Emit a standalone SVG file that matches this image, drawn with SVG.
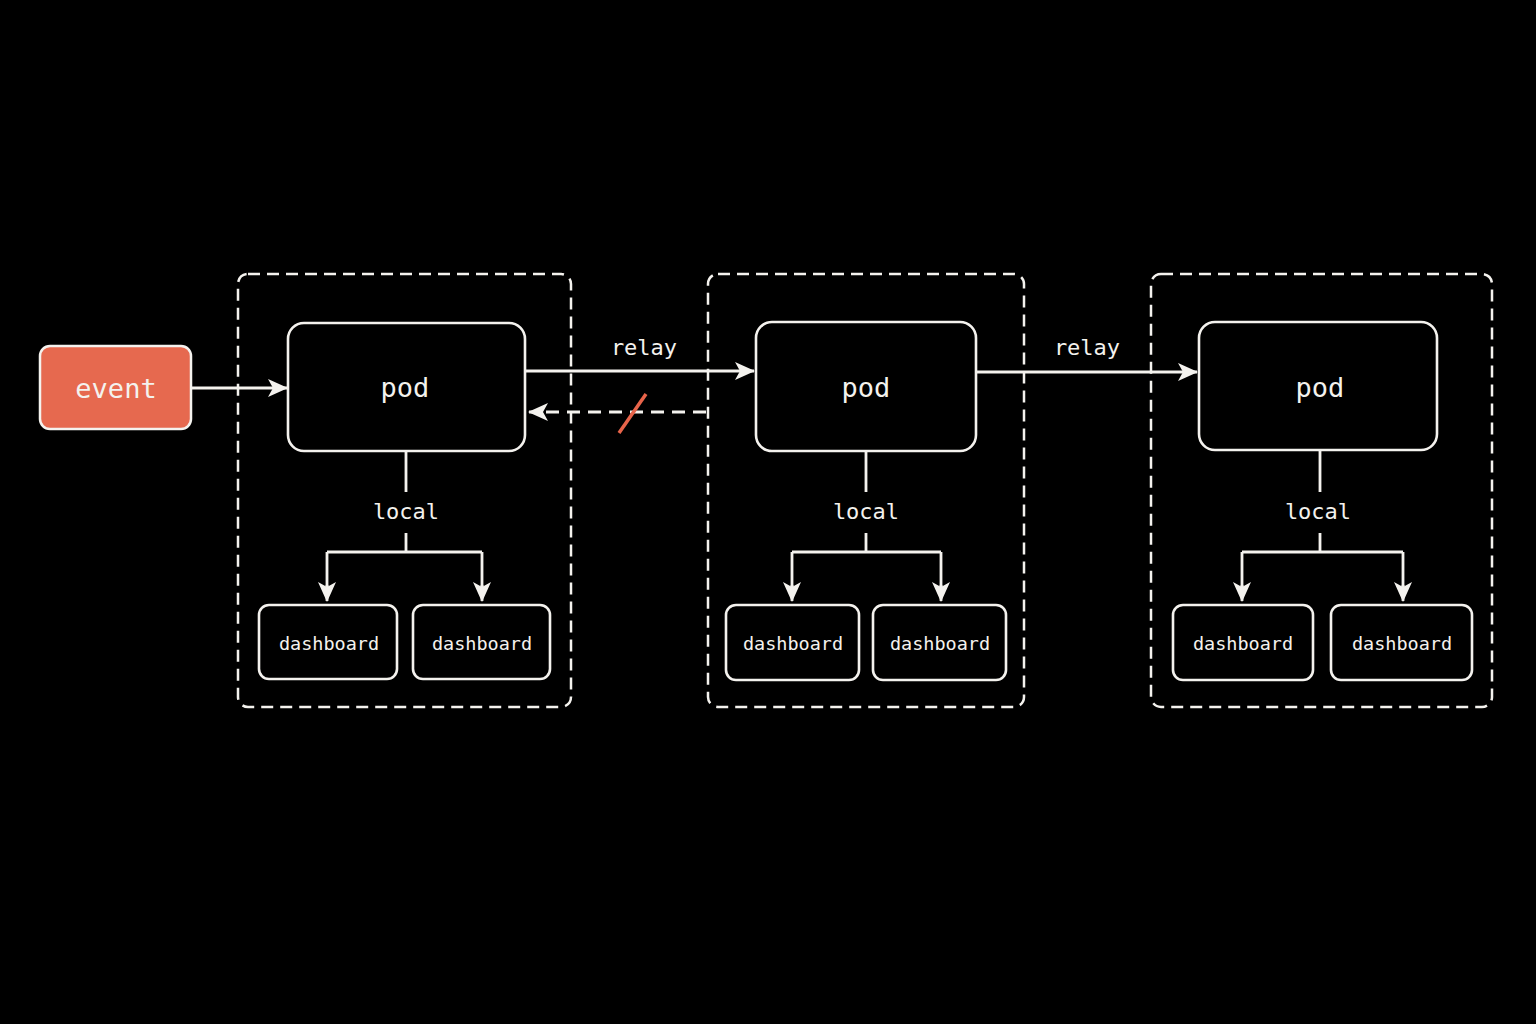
<svg xmlns="http://www.w3.org/2000/svg" width="1536" height="1024" viewBox="0 0 1536 1024">
<style>
.bg{fill:#000}
.grp{fill:none;stroke:#f4f2ee;stroke-width:2.5;stroke-dasharray:12 7}
.box{fill:#000;stroke:#f4f2ee;stroke-width:2.6}
.ln{fill:none;stroke:#f4f2ee;stroke-width:2.8}
.dl{fill:none;stroke:#f4f2ee;stroke-width:2.8;stroke-dasharray:13 8}
.t{font-family:"DejaVu Sans Mono","Liberation Mono",monospace;fill:#f4f2ee;text-anchor:middle;dominant-baseline:central}
.big{font-size:27px}
.mid{font-size:22px}
.sm{font-size:18.5px}
</style>
<defs>
<marker id="ah" viewBox="0 0 20 20" refX="19" refY="10" markerWidth="20" markerHeight="20" markerUnits="userSpaceOnUse" orient="auto">
<path d="M0,1 L20,10 L0,19 L5,10 Z" fill="#f4f2ee"/>
</marker>
</defs>
<rect class="bg" x="0" y="0" width="1536" height="1024"/>

<g id="group1"><rect class="grp" x="238" y="274" width="333" height="433" rx="10"/></g>
<g id="group2"><rect class="grp" x="708" y="274" width="316" height="433" rx="10"/></g>
<g id="group3"><rect class="grp" x="1151" y="274" width="341" height="433" rx="10"/></g>

<g id="connectors">
<line class="ln" x1="191" y1="388" x2="287" y2="388" marker-end="url(#ah)"/>
<line class="ln" x1="525" y1="371" x2="754" y2="371" marker-end="url(#ah)"/>
<line class="dl" x1="706" y1="412" x2="529" y2="412" marker-end="url(#ah)"/>
<line x1="619" y1="433" x2="646" y2="394" stroke="#e8644a" stroke-width="3.5"/>
<line class="ln" x1="976" y1="372" x2="1197" y2="372" marker-end="url(#ah)"/>

<path class="ln" d="M406,451 V492 M406,533 V552 M327,552 H482 M327,552 V592 M482,552 V592"/>
<line class="ln" x1="327" y1="585" x2="327" y2="601" marker-end="url(#ah)"/>
<line class="ln" x1="482" y1="585" x2="482" y2="601" marker-end="url(#ah)"/>

<path class="ln" d="M866,451 V492 M866,533 V552 M792,552 H941 M792,552 V592 M941,552 V592"/>
<line class="ln" x1="792" y1="585" x2="792" y2="601" marker-end="url(#ah)"/>
<line class="ln" x1="941" y1="585" x2="941" y2="601" marker-end="url(#ah)"/>

<path class="ln" d="M1320,450 V492 M1320,533 V552 M1242,552 H1403 M1242,552 V592 M1403,552 V592"/>
<line class="ln" x1="1242" y1="585" x2="1242" y2="601" marker-end="url(#ah)"/>
<line class="ln" x1="1403" y1="585" x2="1403" y2="601" marker-end="url(#ah)"/>

<text class="t mid" x="644" y="347">relay</text>
<text class="t mid" x="1087" y="347">relay</text>
<text class="t mid" x="406" y="511">local</text>
<text class="t mid" x="866" y="511">local</text>
<text class="t mid" x="1318" y="511">local</text>
</g>

<g id="event">
<rect x="40" y="346" width="151" height="83" rx="10" fill="#e6694f" stroke="#f4f2ee" stroke-width="2.5"/>
<text class="t big" x="116" y="388">event</text>
</g>

<g id="pod1"><rect class="box" x="288" y="323" width="237" height="128" rx="16"/><text class="t big" x="405" y="387">pod</text></g>
<g id="pod2"><rect class="box" x="756" y="322" width="220" height="129" rx="16"/><text class="t big" x="866" y="387">pod</text></g>
<g id="pod3"><rect class="box" x="1199" y="322" width="238" height="128" rx="16"/><text class="t big" x="1320" y="387">pod</text></g>

<g id="dash1a"><rect class="box" x="259" y="605" width="138" height="74" rx="10"/><text class="t sm" x="329" y="643">dashboard</text></g>
<g id="dash1b"><rect class="box" x="413" y="605" width="137" height="74" rx="10"/><text class="t sm" x="482" y="643">dashboard</text></g>
<g id="dash2a"><rect class="box" x="726" y="605" width="133" height="75" rx="10"/><text class="t sm" x="793" y="643">dashboard</text></g>
<g id="dash2b"><rect class="box" x="873" y="605" width="133" height="75" rx="10"/><text class="t sm" x="940" y="643">dashboard</text></g>
<g id="dash3a"><rect class="box" x="1173" y="605" width="140" height="75" rx="10"/><text class="t sm" x="1243" y="643">dashboard</text></g>
<g id="dash3b"><rect class="box" x="1331" y="605" width="141" height="75" rx="10"/><text class="t sm" x="1402" y="643">dashboard</text></g>
</svg>
